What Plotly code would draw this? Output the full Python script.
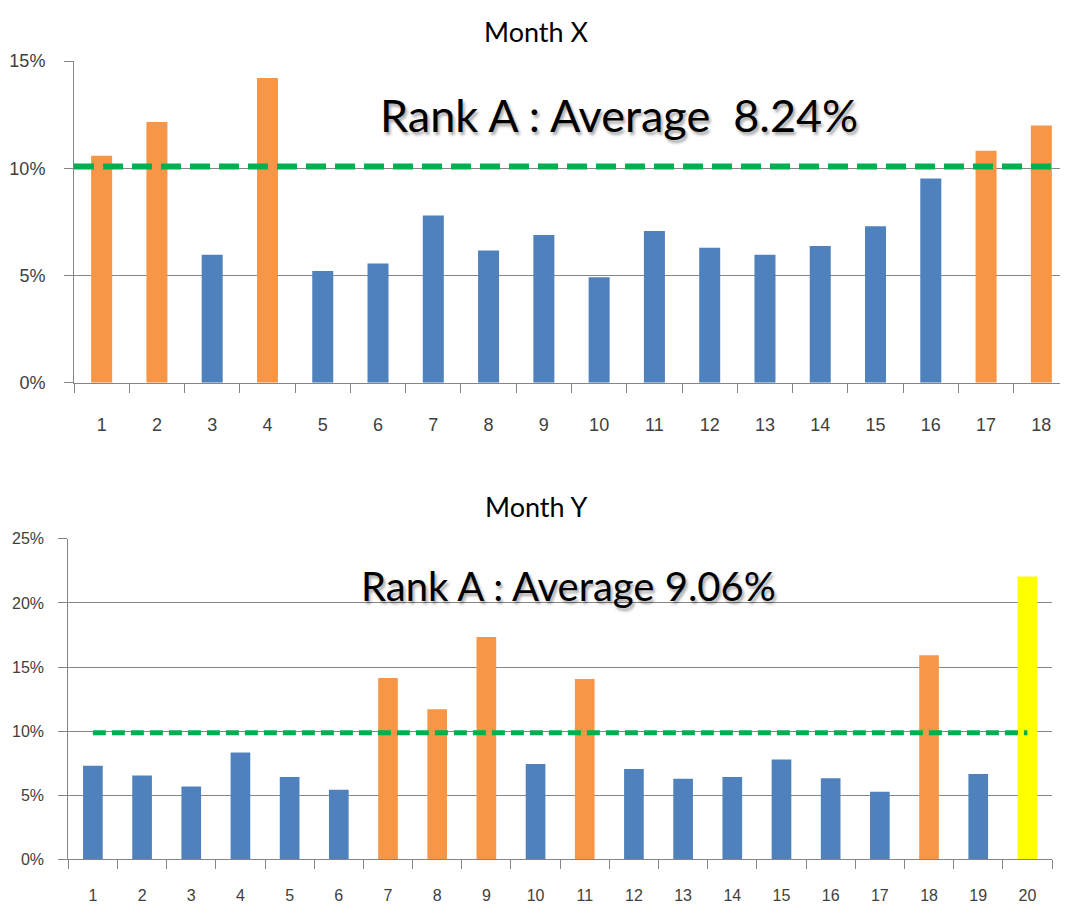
import plotly.graph_objects as go

# ---------------- data ----------------
cats_x = [str(i) for i in range(1, 19)]
vals_x = [10.58, 12.16, 5.97, 14.21, 5.21, 5.56, 7.80, 6.16, 6.89, 4.92,
          7.07, 6.29, 5.97, 6.38, 7.30, 9.52, 10.82, 11.99]
group_x = ["high", "high", "normal", "high", "normal", "normal", "normal", "normal", "normal",
           "normal", "normal", "normal", "normal", "normal", "normal", "normal", "high", "high"]
line_x = 10.08
title_x = "Month X"
note_x = "Rank A : Average\u00a0\u00a08.24%"

cats_y = [str(i) for i in range(1, 21)]
vals_y = [7.30, 6.53, 5.67, 8.32, 6.41, 5.42, 14.15, 11.70, 17.35, 7.43,
          14.07, 7.05, 6.29, 6.41, 7.79, 6.31, 5.27, 15.92, 6.66, 22.06]
group_y = ["normal", "normal", "normal", "normal", "normal", "normal", "high", "high", "high",
           "normal", "high", "normal", "normal", "normal", "normal", "normal", "normal", "high",
           "normal", "top"]
line_y = 9.88
title_y = "Month Y"
note_y = "Rank A : Average 9.06%"

# ---------------- style ----------------
color_map = {"normal": "#4F81BD", "high": "#F79646", "top": "#FFFF00"}
GREEN = "#00B050"
GRID = "#868686"
TXT = "#404040"
# the page body has an 8px margin; size the figure so the page fits the window
OFF = 8
W, H = 1068 - 2 * OFF, 918 - 2 * OFF


def px(x):
    return (x - OFF) / W


def py(y):
    return 1 - (y - OFF) / H


fig = go.Figure()
fig.add_trace(go.Bar(x=cats_x, y=vals_x, marker_color=[color_map[g] for g in group_x],
                     marker_line_width=0, width=0.38, xaxis="x", yaxis="y", showlegend=False))
fig.add_trace(go.Bar(x=cats_y, y=vals_y, marker_color=[color_map[g] for g in group_y],
                     marker_line_width=0, width=0.4, xaxis="x2", yaxis="y2", showlegend=False))

# average lines
fig.add_shape(type="line", xref="x domain", yref="y", x0=0, x1=1, y0=line_x, y1=line_x,
              line=dict(color=GREEN, width=6, dash="20px,9px"), layer="above")
fig.add_trace(go.Scatter(x=[cats_y[0], cats_y[-1]], y=[line_y, line_y], mode="lines",
                         line=dict(color=GREEN, width=5, dash="13px,6px"),
                         xaxis="x2", yaxis="y2", showlegend=False, hoverinfo="skip"))


def xaxis(domain, anchor, standoff, size, rng=None):
    d = dict(domain=domain, anchor=anchor, type="category", tickson="boundaries",
             ticks="outside", ticklen=9, tickcolor=GRID, showline=True, linecolor=GRID,
             linewidth=1, showgrid=False,
             tickfont=dict(family="Liberation Sans, Arial", size=size, color=TXT),
             ticklabelstandoff=standoff, fixedrange=True)
    if rng is not None:
        d["range"] = rng
    return d


def yaxis(domain, rng, anchor, standoff, size):
    return dict(domain=domain, range=rng, dtick=5, ticksuffix="%", ticks="outside",
                ticklen=9, tickcolor=GRID, showline=True, linecolor=GRID, linewidth=1,
                showgrid=True, gridcolor=GRID, gridwidth=1, zeroline=False,
                tickfont=dict(family="Liberation Sans, Arial", size=size, color=TXT),
                ticklabelstandoff=standoff, anchor=anchor)


# top chart runs past the window edge in the reference: keep its category width
cat_w_top = (1069 - 74) / len(cats_x)
top_range = [-0.5, -0.5 + (OFF + W - 74) / cat_w_top]

fig.update_layout(
    width=W, height=H, margin=dict(l=0, r=0, t=0, b=0),
    paper_bgcolor="white", plot_bgcolor="white",
    xaxis=xaxis([px(74), 1.0], "y", 26, 18, top_range),
    yaxis=yaxis([py(381), py(52)], [0, 15], "x", 15, 18),
    xaxis2=xaxis([px(68.3), px(1052)], "y2", 22, 16),
    yaxis2=yaxis([py(868.3), py(540.7)], [0, 25], "x2", 11, 16),
)

title_font = dict(family="Lato, Open Sans", size=27, color="black")
fig.add_annotation(text=title_x, xref="paper", yref="paper", x=px(536), y=py(22),
                   xanchor="center", yanchor="middle", showarrow=False, font=title_font)
fig.add_annotation(text=title_y, xref="paper", yref="paper", x=px(536), y=py(508),
                   xanchor="center", yanchor="middle", showarrow=False, font=title_font)

fig.add_annotation(text=note_x, xref="paper", yref="paper", x=px(619), y=py(107),
                   xanchor="center", yanchor="middle", showarrow=False,
                   font=dict(family="Lato, Open Sans", size=45, color="black",
                             shadow="2px 3px 3px rgba(0,0,0,0.35)"))
fig.add_annotation(text=note_y, xref="paper", yref="paper", x=px(568), y=py(589),
                   xanchor="center", yanchor="middle", showarrow=False,
                   font=dict(family="Lato, Open Sans", size=40, color="black",
                             shadow="2px 3px 3px rgba(0,0,0,0.35)"))

fig.write_html("out.html", config={"displayModeBar": False})
